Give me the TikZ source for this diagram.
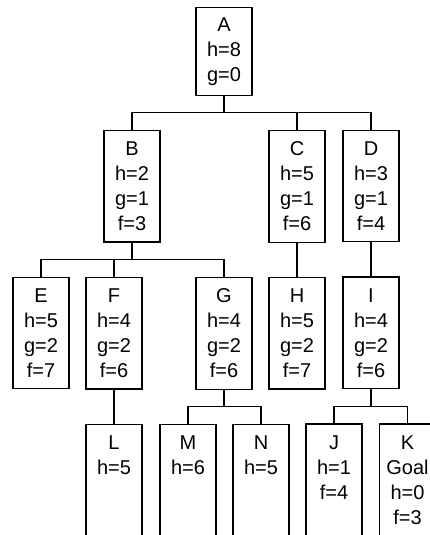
\documentclass[tikz,border=0pt]{standalone}
\usepackage{fontspec}
\setmainfont{Liberation Sans}
\usetikzlibrary{positioning,calc}

\begin{document}
\begin{tikzpicture}[node distance=17pt,
    box/.style={draw, line width=0.6pt, align=center, minimum width=28pt,
                inner xsep=2pt, inner ysep=5.7pt,
                font=\fontsize{10}{12.5}\selectfont},
    leaf/.style={box, text depth=60pt},
    fork/.style={line width=0.6pt}]
                        \useasboundingbox (-112pt,3.5pt) rectangle (102.5pt,-264pt);
                        \node (a) [box, anchor=north, inner ysep=4.9pt] at (0,0) {A\\h=8\\g=0};
                        \node (b) [box, below=of a, xshift=-46pt] {B\\h=2\\g=1\\f=3};
                        \node (c) [box, below=of a, xshift=36.5pt] {C\\h=5\\g=1\\f=6};
                        \node (d) [box, below=of a, xshift=73.5pt] {D\\h=3\\g=1\\f=4};
                        \node (e) [box, below=of b, xshift=-45.5pt] {E\\h=5\\g=2\\f=7};
                        \node (f) [box, below=of b, xshift=-9pt] {F\\h=4\\g=2\\f=6};
                        \node (g) [box, below=of b, xshift=46pt] {G\\h=4\\g=2\\f=6};
                        \node (h) [box, below=of c] {H\\h=5\\g=2\\f=7};
                        \node (i) [box, below=of d] {I\\h=4\\g=2\\f=6};
                        \node (l) [leaf, below=of f] {L\\h=5};
                        \node (m) [leaf, below=of g, xshift=-18pt] {M\\h=6};
                        \node (n) [leaf, below=of g, xshift=18.5pt] {N\\h=5};
                        \node (j) [leaf, below=of i, xshift=-18.5pt] {J\\h=1\\f=4};
                        \node (k) [leaf, below=of i, xshift=18.25pt] {K\\Goal\\h=0\\f=3};
                        % forked edges, parent -> child
                        \draw[fork] (a.south) |- ($(a.south)!.5!(b.north)$) -| (b.north);
                        \draw[fork] (a.south) |- ($(a.south)!.5!(c.north)$) -| (c.north);
                        \draw[fork] (a.south) |- ($(a.south)!.5!(d.north)$) -| (d.north);
                        \draw[fork] (b.south) |- ($(b.south)!.5!(e.north)$) -| (e.north);
                        \draw[fork] (b.south) |- ($(b.south)!.5!(f.north)$) -| (f.north);
                        \draw[fork] (b.south) |- ($(b.south)!.5!(g.north)$) -| (g.north);
                        \draw[fork] (c.south) -- (h.north);
                        \draw[fork] (d.south) -- (i.north);
                        \draw[fork] (f.south) -- (l.north);
                        \draw[fork] (g.south) |- ($(g.south)!.5!(m.north)$) -| (m.north);
                        \draw[fork] (g.south) |- ($(g.south)!.5!(n.north)$) -| (n.north);
                        \draw[fork] (i.south) |- ($(i.south)!.5!(j.north)$) -| (j.north);
                        \draw[fork] (i.south) |- ($(i.south)!.5!(k.north)$) -| (k.north);
                    \end{tikzpicture}
\end{document}
